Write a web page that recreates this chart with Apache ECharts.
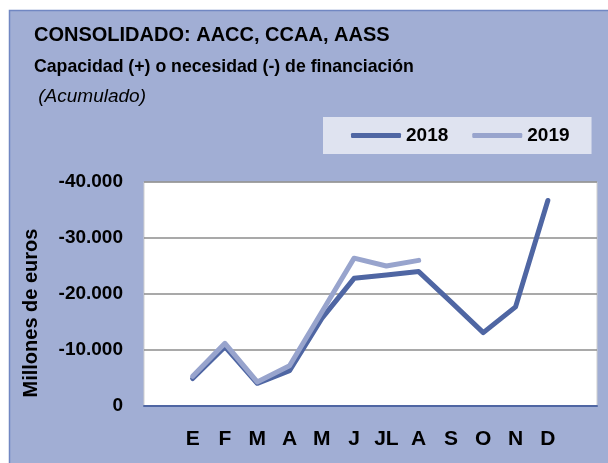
<!DOCTYPE html>
<html>
<head>
<meta charset="utf-8">
<script src="https://cdn.jsdelivr.net/npm/echarts@6/dist/echarts.min.js"></script>
<style>
html, body { margin: 0; padding: 0; background: #fff; }
#chart { width: 608px; height: 463px; }
</style>
</head>
<body>
<div id="chart"></div>
<script>
var months = ['E', 'F', 'M', 'A', 'M', 'J', 'JL', 'A', 'S', 'O', 'N', 'D'];
var serie2018 = [-4900, -10600, -4050, -6300, -15650, -22800, -23400, -24000, -18600, -13100, -17700, -36700];
var serie2019 = [-5300, -11200, -4300, -7200, -16800, -26400, -25000, -26000];
var yTicks = [0, -10000, -20000, -30000, -40000];
var yTickLabels = ['0', '-10.000', '-20.000', '-30.000', '-40.000'];

var font = 'Liberation Sans';
var c2018 = '#4f66a3';
var c2019 = '#98a4cd';

var e = echarts.init(document.getElementById('chart'));

e.setOption({
    backgroundColor: '#fff',
    animation: false,
    textStyle: {fontFamily: font},
    graphic: [
        {
            type: 'rect', z: -100, silent: true,
            shape: {x: 9.5, y: 10.5, width: 640, height: 480},
            style: {fill: '#a1aed4', stroke: '#7187c2', lineWidth: 1.5}
        },
        {
            type: 'text', x: 31, y: 313, rotation: Math.PI / 2,
            style: {
                text: 'Millones de euros', fill: '#000',
                font: 'bold 20px ' + font, textAlign: 'center', textVerticalAlign: 'middle'
            }
        }
    ],
    title: [
        {text: 'CONSOLIDADO: AACC, CCAA, AASS', left: 34, top: 25, padding: 0,
            textStyle: {fontSize: 20, fontWeight: 'bold', color: '#000'}},
        {text: 'Capacidad (+) o necesidad (-) de financiación', left: 34, top: 58, padding: 0,
            textStyle: {fontSize: 17.7, fontWeight: 'bold', color: '#000'}},
        {text: ' (Acumulado)', left: 33, top: 87, padding: 0,
            textStyle: {fontSize: 19, fontStyle: 'italic', fontWeight: 'normal', color: '#000'}}
    ],
    legend: {
        left: 323, top: 117,
        padding: [9, 22, 9, 28],
        backgroundColor: '#dfe3f0',
        itemWidth: 50, itemHeight: 5, itemGap: 24,
        icon: 'roundRect',
        textStyle: {fontSize: 19, fontWeight: 'bold', color: '#000'},
        data: ['2018', '2019']
    },
    grid: [
        {left: 144, right: 11, top: 182, bottom: 57, show: true,
            backgroundColor: '#fff', borderColor: '#cfcfcf', borderWidth: 1},
        {left: 176.5, right: 44, top: 182, bottom: 57}
    ],
    xAxis: [
        {gridIndex: 0, type: 'value', min: 0, max: 1,
            axisLine: {show: true, lineStyle: {color: c2018, width: 2}},
            axisTick: {show: false}, axisLabel: {show: false}, splitLine: {show: false}},
        {gridIndex: 1, type: 'category', data: months, boundaryGap: true,
            axisLine: {show: false}, axisTick: {show: false},
            axisLabel: {margin: 23, fontSize: 21, fontWeight: 'bold', color: '#000'}}
    ],
    yAxis: [
        {gridIndex: 0, type: 'value', min: -40000, max: 0, interval: 10000, inverse: true,
            axisLine: {show: false}, axisTick: {show: false},
            axisLabel: {
                margin: 21, fontSize: 19, fontWeight: 'bold', color: '#000',
                formatter: function (v) {
                    var i = yTicks.indexOf(v);
                    return i >= 0 ? yTickLabels[i] : '';
                }
            },
            splitLine: {lineStyle: {color: '#8c8c8c', width: 1.5}}},
        {gridIndex: 1, type: 'value', min: -40000, max: 0, inverse: true, show: false}
    ],
    series: [
        {name: '2018', type: 'line', xAxisIndex: 1, yAxisIndex: 1, data: serie2018,
            symbol: 'none', color: c2018,
            lineStyle: {width: 5, color: c2018, cap: 'round', join: 'round'}},
        {name: '2019', type: 'line', xAxisIndex: 1, yAxisIndex: 1, data: serie2019,
            symbol: 'none', color: c2019,
            lineStyle: {width: 5, color: c2019, cap: 'round', join: 'round'}}
    ]
});
</script>
</body>
</html>
